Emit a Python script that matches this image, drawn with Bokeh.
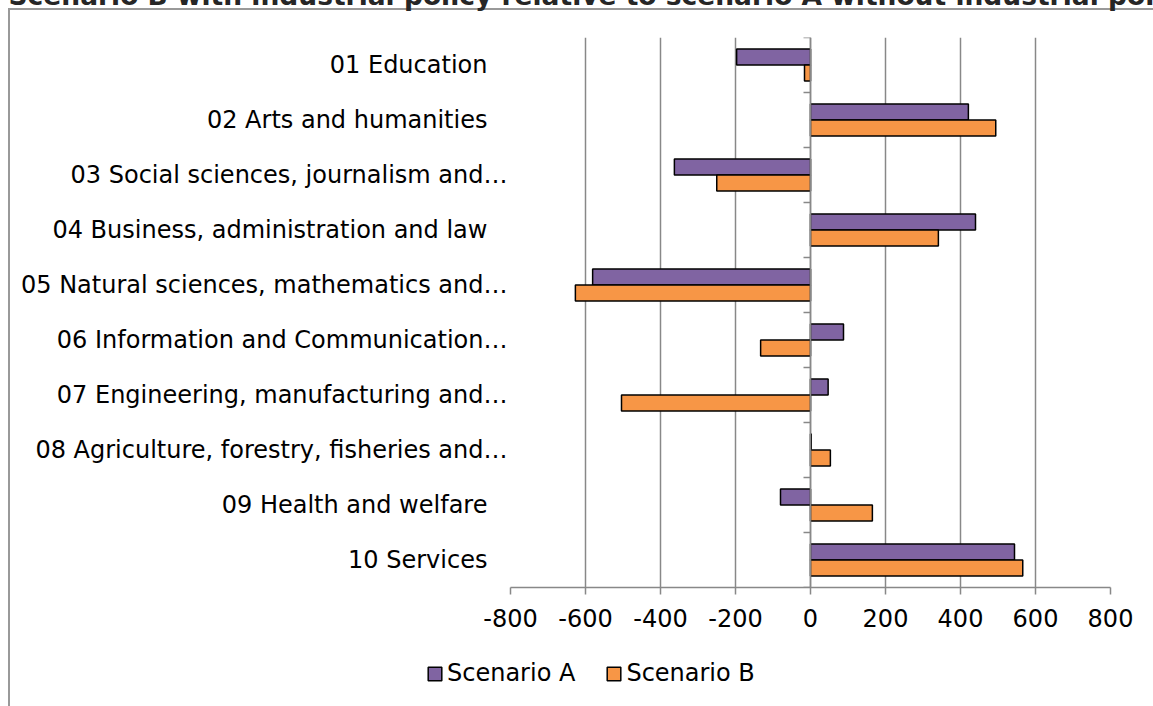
from bokeh.plotting import figure
from bokeh.models import (Range1d, LinearAxis, FixedTicker, Legend, Title,
                          LegendItem, ColumnDataSource)
from bokeh.embed import file_html
from bokeh.resources import INLINE

# ---- data ----
categories = [
    "01 Education",
    "02 Arts and humanities",
    "03 Social sciences, journalism and…",
    "04 Business, administration and law",
    "05 Natural sciences, mathematics and…",
    "06 Information and Communication…",
    "07 Engineering, manufacturing and…",
    "08 Agriculture, forestry, fisheries and…",
    "09 Health and welfare",
    "10 Services",
]
scenario_a = [-197, 421, -363, 440, -581, 88, 47, 2, -80, 544]
scenario_b = [-16, 494, -250, 341, -627, -133, -504, 53, 165, 566]
x_ticks = [-800, -600, -400, -200, 0, 200, 400, 600, 800]
series_names = ["Scenario A", "Scenario B"]
title_text = "Scenario B with industrial policy relative to scenario A without industrial policy"

PURPLE = "#8064A2"
ORANGE = "#F79646"
GRID = "#888888"
FRAME = "#999999"
FONT = "DejaVu Sans"

T = 50  # part of the chart (title) that lies above the window

n = len(categories)
pos = [n - 1 - i for i in range(n)]
pos_a = [v + 0.145 for v in pos]
pos_b = [v - 0.145 for v in pos]

p = figure(width=1153, height=640 + T,
           y_range=Range1d(-0.5, n - 0.5),
           x_range=Range1d(-800, 800),
           output_backend="svg", toolbar_location=None,
           min_border_left=510, min_border_right=43,
           min_border_top=37 + T, min_border_bottom=53,
           outline_line_color=None,
           border_fill_color=None, background_fill_color=None,
           margin=(-T, 0, 0, 0),
           styles={"background":
                   f"linear-gradient({FRAME},{FRAME}) 8px {8 + T}px / 100% 2px no-repeat, "
                   f"linear-gradient({FRAME},{FRAME}) 8px {8 + T}px / 2px 100% no-repeat"})

src = ColumnDataSource(dict(cat=categories, a=scenario_a, b=scenario_b, ya=pos_a, yb=pos_b))
rA = p.hbar(y="ya", left=0, right="a", height=0.29,
            fill_color=PURPLE, line_color="black", line_width=1.5, source=src)
rB = p.hbar(y="yb", left=0, right="b", height=0.29,
            fill_color=ORANGE, line_color="black", line_width=1.5, source=src)

xa = p.xaxis[0]
xa.ticker = FixedTicker(ticks=x_ticks)
xa.major_label_overrides = {t: str(t) for t in x_ticks}
xa.axis_line_color = GRID
xa.axis_line_width = 1.5
xa.major_tick_line_color = GRID
xa.major_tick_line_width = 1.5
xa.major_tick_out = 7
xa.major_tick_in = 0
xa.minor_tick_line_color = None
xa.major_label_standoff = 14
xa.major_label_text_font = FONT
xa.major_label_text_font_size = "24px"
xa.major_label_text_color = "black"

ya = p.yaxis[0]
ya.ticker = FixedTicker(ticks=pos)
ya.axis_line_color = None
ya.major_tick_line_color = None
ya.minor_tick_line_color = None
ya.major_tick_out = 0
ya.major_tick_in = 0
ya.major_label_standoff = 3
ya.major_label_text_font = FONT
ya.major_label_text_font_size = "24px"
ya.major_label_text_color = "black"
ya.major_label_overrides = {
    pv: (c if c.endswith("…") else c + "\u00a0\u00a0\u2009")
    for pv, c in zip(pos, categories)
}

boundaries = [v - 0.5 for v in range(n + 1)]
za = LinearAxis(fixed_location=0,
                ticker=FixedTicker(ticks=boundaries),
                axis_line_color=GRID, axis_line_width=1.5,
                major_tick_line_color=GRID, major_tick_line_width=1.5,
                major_tick_in=7, major_tick_out=0,
                minor_tick_line_color=None,
                major_label_text_color=None, major_label_standoff=0,
                major_label_overrides={b: " " for b in boundaries})
p.add_layout(za, "right")

p.xgrid.grid_line_color = GRID
p.xgrid.grid_line_width = 1.5
p.xgrid.ticker = FixedTicker(ticks=x_ticks)
p.ygrid.grid_line_color = None

title = Title(text=title_text, align="left", offset=-502, standoff=54,
              vertical_align="bottom",
              text_font=FONT, text_font_style="bold", text_font_size="26.5px",
              text_color="#262626")
p.add_layout(title, "above")

# ---- legend strip (separate root, its frame spans the whole strip) ----
p2 = figure(width=1153, height=66, x_range=Range1d(-800, 800), y_range=Range1d(-0.5, n - 0.5),
            x_axis_type=None, y_axis_type=None, min_border=0,
            output_backend="svg", toolbar_location=None,
            outline_line_color=None,
            border_fill_color=None, background_fill_color=None,
            styles={"background":
                    f"linear-gradient({FRAME},{FRAME}) 8px 0px / 2px 100% no-repeat"})
p2.grid.visible = False
# same series, hidden here: only their legend swatches are shown
lA = p2.hbar(y="ya", left=0, right="a", height=0.29, fill_color=PURPLE,
             line_color="black", line_width=1.5, source=src, visible=False)
lB = p2.hbar(y="yb", left=0, right="b", height=0.29, fill_color=ORANGE,
             line_color="black", line_width=1.5, source=src, visible=False)
legend = Legend(items=[LegendItem(label=series_names[0], renderers=[lA]),
                       LegendItem(label=series_names[1], renderers=[lB])],
                orientation="horizontal", location=(426, 19),
                glyph_width=17, glyph_height=17, label_standoff=4, spacing=30,
                label_text_font=FONT, label_text_font_size="24px",
                label_text_color="black",
                label_height=24, padding=0, margin=0,
                inactive_fill_alpha=0,
                border_line_color=None, background_fill_alpha=0)
p2.add_layout(legend)

open("out.html", "w").write(file_html([p, p2], INLINE))
